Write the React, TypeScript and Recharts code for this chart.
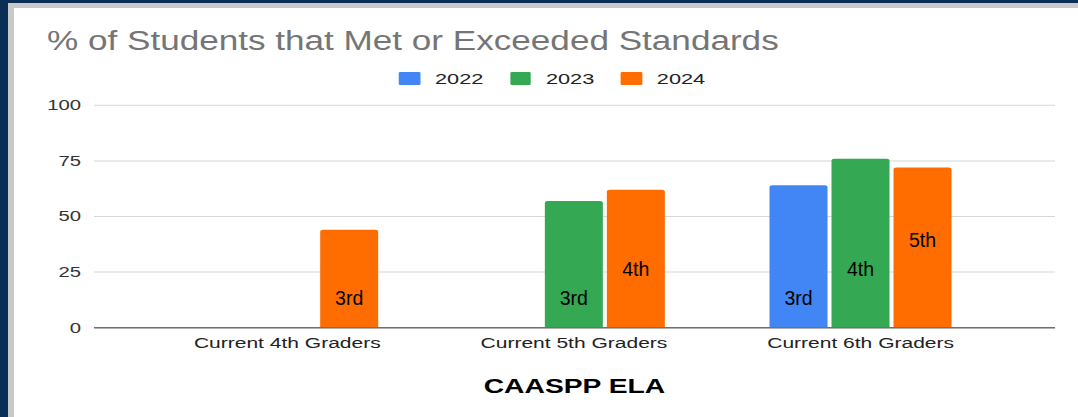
import React from 'react'
import { BarChart, Bar, XAxis, YAxis, CartesianGrid, Legend, LabelList } from 'recharts'

// the reference is a horizontally stretched screenshot, so the chart is drawn narrow and stretched back
const S = 1.45
const CW = 1078 / S

const categories = ['Current 4th Graders', 'Current 5th Graders', 'Current 6th Graders']
const values2022 = [null, null, 64]
const values2023 = [null, 57, 76]
const values2024 = [44, 62, 72]
const grades2022 = ['', '', '3rd']
const grades2023 = ['', '3rd', '4th']
const grades2024 = ['3rd', '4th', '5th']
const gradeOrder = ['3rd', '4th', '5th']
const yTicks = [0, 25, 50, 75, 100]

const series = [
    { key: 'y2022', label: 'l2022', name: '2022', color: '#4285f4' },
    { key: 'y2023', label: 'l2023', name: '2023', color: '#34a853' },
    { key: 'y2024', label: 'l2024', name: '2024', color: '#ff6d01' },
]

const data = categories.map((c, i) => ({
    category: c,
    y2022: values2022[i], y2023: values2023[i], y2024: values2024[i],
    l2022: grades2022[i], l2023: grades2023[i], l2024: grades2024[i],
}))

const FONT = '"Liberation Sans", Arial, sans-serif'

function GradeLabel(props: any) {
    const { x, y, width, height, value } = props
    if (!value) return null
    const level = gradeOrder.indexOf(value)
    const cx = Number(x) + Number(width) / 2
    const cy = Number(y) + Number(height) - 29.7 - 29 * level
    return (
        <text x={cx} y={cy} textAnchor="middle" dominantBaseline="central" fontSize={21}
              fontFamily={FONT} fill="#000"
              transform={`translate(${cx} 0) scale(${0.93 / S} 1) translate(${-cx} 0)`}>
            {value}
        </text>
    )
}

function renderLegend() {
    return (
        <div style={{ display: 'flex', alignItems: 'center', fontFamily: FONT, fontSize: 15, color: '#222' }}>
            {series.map(s => (
                <div key={s.key} style={{ display: 'flex', alignItems: 'center', width: 76.5 }}>
                    <div style={{ width: 14.5, height: 13, background: s.color, borderRadius: 1, marginRight: 10.3 }}/>
                    <span>{s.name}</span>
                </div>
            ))}
        </div>
    )
}

export default function App() {
    return (
        <div style={{ position: 'absolute', left: 0, top: 0, width: 1078, height: 417, background: '#0b2e56', overflow: 'hidden' }}>
            <div style={{ position: 'absolute', left: 8, top: 3, right: 0, bottom: 0, background: '#fff',
                          borderLeft: '6px solid #c9c9c9', borderTop: '5px solid #c9c9c9', boxSizing: 'border-box' }}/>
            <div style={{ position: 'absolute', left: 47, top: 28, fontFamily: FONT, fontSize: 27, lineHeight: 1,
                          color: '#757575', whiteSpace: 'nowrap', transform: 'scaleX(1.3)', transformOrigin: 'left top' }}>
                % of Students that Met or Exceeded Standards
            </div>
            <div style={{ position: 'absolute', left: 0, top: 0, width: CW, height: 417,
                          transform: `scaleX(${S})`, transformOrigin: 'left top' }}>
                <BarChart width={CW} height={417} data={data} barSize={40} barGap={2.76}
                          margin={{ top: 105.3, right: CW - 727.6, bottom: 49.3, left: 0 }}>
                    <CartesianGrid vertical={false} stroke="#d6d6d6"/>
                    <XAxis dataKey="category" height={40} interval={0} tickLine={false} tickSize={0} tickMargin={9.6}
                           axisLine={{ stroke: '#707070', strokeWidth: 1.5 }}
                           padding={{ left: 34.5, right: 35.2 }}
                           tick={{ fontSize: 14.5, fill: '#222', fontFamily: FONT }}
                           label={{ value: 'CAASPP ELA', position: 'bottom', offset: 11.3, fill: '#000',
                                    fontSize: 19.5, fontWeight: 'bold', fontFamily: FONT }}/>
                    <YAxis domain={[0, 100]} ticks={yTicks} interval={0} width={64.8} tickLine={false}
                           axisLine={false} tickSize={0} tickMargin={8.9}
                           tick={{ fontSize: 14, fill: '#333', fontFamily: FONT }}/>
                    <Legend layout="horizontal" verticalAlign="middle" align="center"
                            wrapperStyle={{ top: 69.5, left: 275.2, width: 300 }} content={renderLegend}/>
                    {series.map(s => (
                        <Bar key={s.key} dataKey={s.key} name={s.name} fill={s.color} radius={[2, 2, 0, 0]}
                             isAnimationActive={false}>
                            <LabelList dataKey={s.label} content={GradeLabel}/>
                        </Bar>
                    ))}
                </BarChart>
            </div>
        </div>
    )
}
